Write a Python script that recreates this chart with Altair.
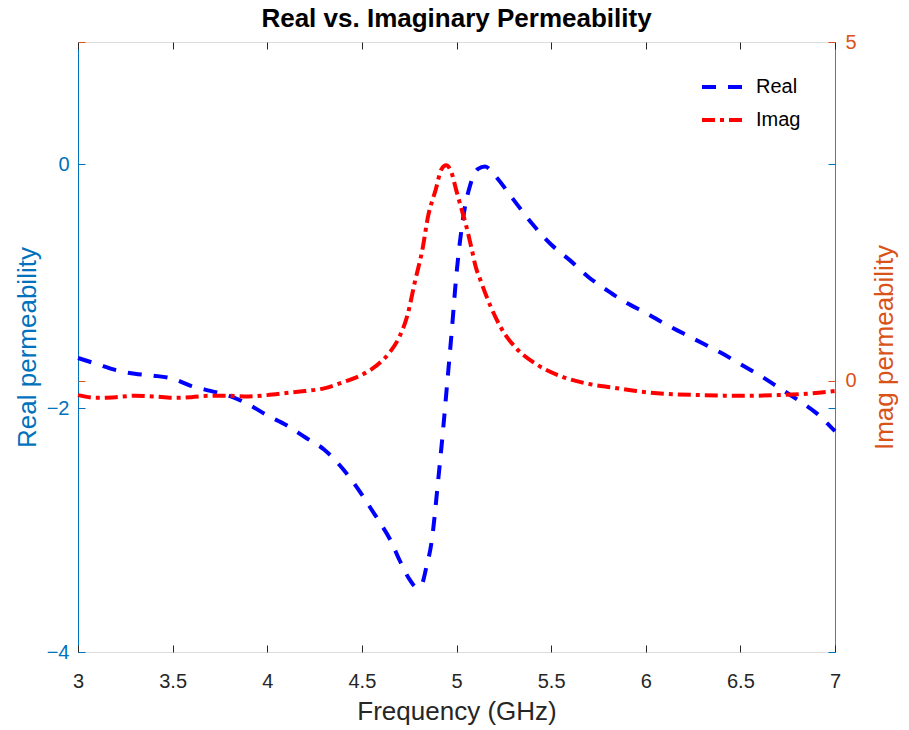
import altair as alt
import pandas as pd

# ---- data ----
real_freq = [3.0, 3.1, 3.2, 3.3, 3.4, 3.5, 3.6, 3.7, 3.8, 3.9, 4.0, 4.1, 4.2, 4.3, 4.4,
             4.5, 4.55, 4.6, 4.65, 4.7, 4.75, 4.79, 4.815, 4.84, 4.87, 4.902, 4.929,
             4.95, 4.976, 4.997, 5.018, 5.045, 5.071, 5.114, 5.151, 5.2, 5.3, 5.4,
             5.5, 5.6, 5.7, 5.8, 5.9, 6.0, 6.1, 6.2, 6.3, 6.4, 6.5, 6.6, 6.7, 6.8,
             6.9, 7.0]
real_vals = [-1.59, -1.64, -1.69, -1.72, -1.735, -1.76, -1.82, -1.86, -1.90, -1.97,
             -2.06, -2.14, -2.24, -2.34, -2.50, -2.71, -2.83, -2.95, -3.08, -3.25,
             -3.40, -3.47, -3.45, -3.31, -3.08, -2.61, -2.18, -1.81, -1.35, -0.95,
             -0.64, -0.35, -0.18, -0.04, -0.02, -0.09, -0.29, -0.49, -0.66, -0.79,
             -0.93, -1.04, -1.14, -1.22, -1.31, -1.39, -1.47, -1.55, -1.64, -1.73,
             -1.83, -1.93, -2.04, -2.19]

imag_freq = [3.0, 3.1, 3.2, 3.3, 3.4, 3.5, 3.6, 3.7, 3.8, 3.9, 4.0, 4.1, 4.2, 4.3,
             4.35, 4.4, 4.45, 4.5, 4.55, 4.6, 4.65, 4.7, 4.74, 4.78, 4.82, 4.85, 4.89,
             4.92, 4.945, 4.97, 5.0, 5.02, 5.05, 5.08, 5.1, 5.13, 5.18, 5.24, 5.32,
             5.42, 5.55, 5.69, 5.83, 5.95, 6.1, 6.3, 6.5, 6.7, 6.85, 7.0]
imag_vals = [-0.21, -0.25, -0.24, -0.22, -0.23, -0.25, -0.24, -0.22, -0.22, -0.23,
             -0.21, -0.18, -0.15, -0.11, -0.07, -0.02, 0.03, 0.09, 0.17, 0.28, 0.43,
             0.66, 0.96, 1.46, 1.94, 2.43, 2.82, 3.12, 3.18, 3.10, 2.80, 2.60, 2.30,
             1.95, 1.70, 1.46, 1.10, 0.76, 0.47, 0.25, 0.07, -0.04, -0.10, -0.15,
             -0.19, -0.21, -0.22, -0.21, -0.19, -0.15]

series_names = ["Real", "Imag"]
x_ticks = [3, 3.5, 4, 4.5, 5, 5.5, 6, 6.5, 7]
left_ticks = [-4, -2, 0]
right_ticks = [0, 5]

df_real = pd.DataFrame({"freq": real_freq, "value": real_vals, "series": "Real"})
df_imag = pd.DataFrame({"freq": imag_freq, "value": imag_vals, "series": "Imag"})

FONT = "Liberation Sans"
BLUE_AX = "#0072BD"
ORANGE_AX = "#D95319"
DARK = "#262626"

x_scale = alt.Scale(domain=[3, 7], nice=False, zero=False)
left_scale = alt.Scale(domain=[-4, 1], nice=False, zero=False)
right_scale = alt.Scale(domain=[-4, 5], nice=False, zero=False)
color_scale = alt.Scale(domain=series_names, range=["#0000FF", "#FF0000"])
dash_scale = alt.Scale(domain=series_names, range=[[14, 12], [13, 5, 4, 5]])

legend = alt.Legend(
    title=None, orient="none", legendX=622, legendY=22, symbolType="stroke",
    symbolSize=1764, symbolStrokeWidth=4, labelFont=FONT, labelFontSize=20,
    labelColor="black", labelOffset=10, padding=0, rowPadding=0,
)

color_enc = alt.Color("series:N", scale=color_scale, legend=legend)
dash_enc = alt.StrokeDash("series:N", scale=dash_scale, legend=legend)

real_line = alt.Chart(df_real).mark_line(strokeWidth=4, interpolate="monotone").encode(
    x=alt.X("freq:Q", scale=x_scale, axis=alt.Axis(
        values=x_ticks, orient="bottom", offset=-7, tickSize=7, domain=False,
        tickColor=DARK, labelColor=DARK, labelFont=FONT, labelFontSize=20,
        labelPadding=19, format="~g", labelFlush=False,
        title="Frequency (GHz)", titleFont=FONT, titleFontSize=26,
        titleFontWeight="normal", titleColor=DARK, titlePadding=7,
        grid=True,
        gridColor=alt.condition("datum.value == 3", alt.value(BLUE_AX), alt.value(ORANGE_AX)),
        gridOpacity=alt.condition("datum.value == 3 || datum.value == 7", alt.value(1), alt.value(0)),
        gridWidth=1,
    )),
    y=alt.Y("value:Q", scale=left_scale, axis=alt.Axis(
        values=left_ticks, orient="left", offset=-7, tickSize=7, domain=False,
        tickColor=BLUE_AX, labelColor=BLUE_AX, labelFont=FONT, labelFontSize=20,
        labelPadding=9, labelFlush=False, grid=False,
        title="Real permeability", titleFont=FONT, titleFontSize=26,
        titleFontWeight="normal", titleColor=BLUE_AX, titlePadding=6,
    )),
    color=color_enc,
    strokeDash=dash_enc,
)

imag_line = alt.Chart(df_imag).mark_line(strokeWidth=4, interpolate="monotone").encode(
    x=alt.X("freq:Q", scale=x_scale, axis=alt.Axis(
        values=x_ticks, orient="top", offset=-7, tickSize=7, domain=False,
        tickColor=DARK, labels=False, title=None, grid=False,
    )),
    y=alt.Y("value:Q", scale=right_scale, axis=alt.Axis(
        values=right_ticks, orient="right", offset=-7, tickSize=7, domain=False,
        tickColor=ORANGE_AX, labelColor=ORANGE_AX, labelFont=FONT, labelFontSize=20,
        labelPadding=10, labelFlush=False, grid=False,
        title="Imag permeability", titleFont=FONT, titleFontSize=26, titleAngle=270,
        titleFontWeight="normal", titleColor=ORANGE_AX, titlePadding=41,
    )),
    color=color_enc,
    strokeDash=dash_enc,
)

# mirrored inward ticks (left-axis ticks on the right side, right-axis ticks on the left side)
mirror_left = alt.Chart(df_real).mark_line(strokeOpacity=0).encode(
    x=alt.X("freq:Q", scale=x_scale, axis=None),
    y=alt.Y("value:Q", scale=left_scale, axis=alt.Axis(
        values=left_ticks, orient="right", offset=-7, tickSize=7, domain=False,
        tickColor=BLUE_AX, labels=False, title=None, grid=False,
    )),
)
mirror_right = alt.Chart(df_imag).mark_line(strokeOpacity=0).encode(
    x=alt.X("freq:Q", scale=x_scale, axis=None),
    y=alt.Y("value:Q", scale=right_scale, axis=alt.Axis(
        values=right_ticks, orient="left", offset=-7, tickSize=7, domain=False,
        tickColor=ORANGE_AX, labels=False, title=None, grid=False,
    )),
)

chart = alt.layer(real_line, imag_line, mirror_left, mirror_right).resolve_scale(
    y="independent"
).resolve_axis(
    x="independent", y="independent"
).properties(
    width=757, height=610,
    title=alt.Title("Real vs. Imaginary Permeability", font=FONT, fontSize=26,
                    fontWeight="bold", color="black", anchor="middle",
                    frame="group", offset=0),
    autosize=alt.AutoSizeParams(type="none"),
    padding={"left": 78, "top": 42, "right": 74, "bottom": 78},
).configure_view(
    stroke="#707070", strokeWidth=1
).configure(background="white")

chart.save("out.html", embed_options={"renderer": "svg", "actions": False})
